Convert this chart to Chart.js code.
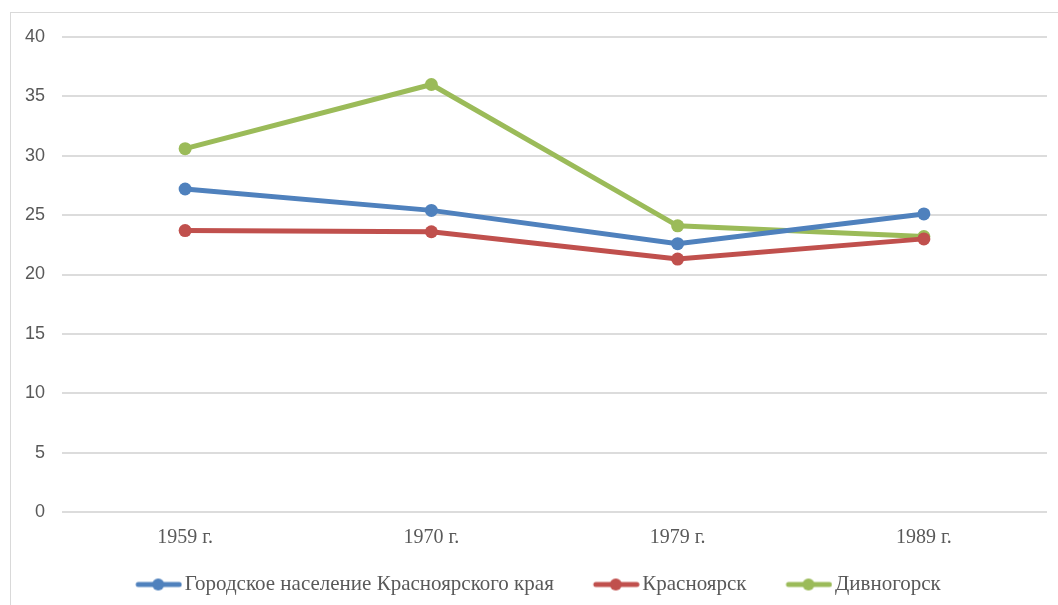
<!DOCTYPE html>
<html>
<head>
<meta charset="utf-8">
<script src="https://cdn.jsdelivr.net/npm/chart.js@4"></script>
<style>
    html, body { margin: 0; padding: 0; background: #fff; overflow: hidden; }
    #wrap { position: absolute; left: 0; top: 0; width: 1058px; height: 605px; }
    #frame { position: absolute; left: 10px; top: 12px; width: 1060px; height: 610px; border: 1px solid #d9d9d9; box-sizing: border-box; }
    canvas { position: absolute; left: 0; top: 0; }
</style>
</head>
<body>
<div id="wrap">
    <div id="frame"></div>
    <canvas id="chart" width="1058" height="605"></canvas>
</div>
<script>
// Chart data
const years = ['1959 г.', '1970 г.', '1979 г.', '1989 г.'];
const urbanRegion = [27.2, 25.4, 22.6, 25.1];
const krasnoyarsk = [23.7, 23.6, 21.3, 23.0];
const divnogorsk = [30.6, 36.0, 24.1, 23.2];

const seriesNames = ['Городское население Красноярского края', 'Красноярск', 'Дивногорск'];
const seriesColors = ['#4f81bd', '#c0504d', '#9bbb59'];

// legend marker: thick line with a dot, drawn in the right part of the image
// (left part left empty so it works as spacing between legend items)
function makeMarker(color) {
    const c = document.createElement('canvas');
    c.width = 84;
    c.height = 14;
    const ctx = c.getContext('2d');
    ctx.strokeStyle = color;
    ctx.lineWidth = 5;
    ctx.lineCap = 'round';
    ctx.beginPath();
    ctx.moveTo(40, 7);
    ctx.lineTo(81, 7);
    ctx.stroke();
    ctx.fillStyle = color;
    ctx.beginPath();
    ctx.arc(60, 7, 6, 0, Math.PI * 2);
    ctx.fill();
    return c;
}

const markers = seriesColors.map(makeMarker);

function buildDataset(label, data, color) {
    return {
        label: label,
        data: data,
        borderColor: color,
        backgroundColor: color,
        borderWidth: 5,
        pointRadius: 6.5,
        pointHoverRadius: 6.5,
        pointBackgroundColor: color,
        pointBorderWidth: 0,
        tension: 0
    };
}

new Chart(document.getElementById('chart'), {
    type: 'line',
    data: {
        labels: years,
        datasets: [
            buildDataset(seriesNames[0], urbanRegion, seriesColors[0]),
            buildDataset(seriesNames[1], krasnoyarsk, seriesColors[1]),
            buildDataset(seriesNames[2], divnogorsk, seriesColors[2])
        ]
    },
    options: {
        responsive: false,
        animation: false,
        layout: { padding: { left: 0, right: 11, top: 37, bottom: 0 } },
        plugins: {
            tooltip: { enabled: false },
            legend: {
                position: 'bottom',
                labels: {
                    usePointStyle: true,
                    pointStyleWidth: 68,
                    color: '#595959',
                    font: { family: 'Liberation Serif', size: 21 },
                    padding: 10,
                    generateLabels: chart => chart.data.datasets.map((ds, i) => ({
                        text: ds.label,
                        fillStyle: ds.borderColor,
                        strokeStyle: ds.borderColor,
                        pointStyle: markers[i],
                        fontColor: '#595959',
                        datasetIndex: i,
                        hidden: false
                    }))
                }
            }
        },
        scales: {
            x: {
                offset: true,
                grid: { display: false, drawTicks: false },
                border: { display: false },
                ticks: {
                    color: '#595959',
                    font: { family: 'Liberation Serif', size: 20 },
                    padding: 14
                }
            },
            y: {
                min: 0,
                max: 40,
                afterFit: scale => { scale.width = 62; },
                grid: { color: '#dcdcdc', lineWidth: 2, drawTicks: false },
                border: { display: false },
                ticks: {
                    stepSize: 5,
                    color: '#595959',
                    font: { family: 'Liberation Sans', size: 18 },
                    padding: 17
                }
            }
        }
    }
});
</script>
</body>
</html>
